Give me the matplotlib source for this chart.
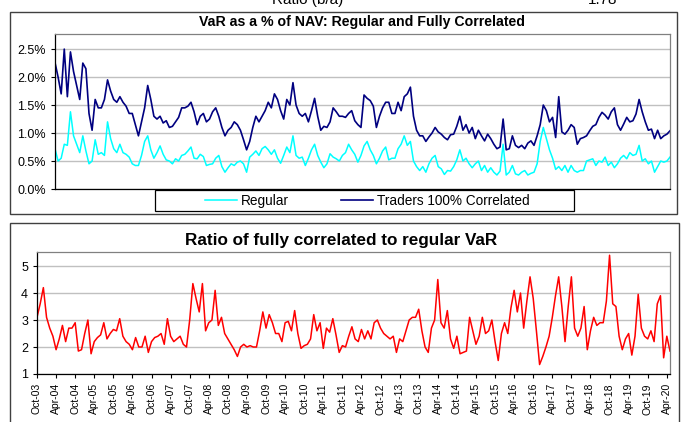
import numpy as np
import matplotlib
matplotlib.use('Agg')
import matplotlib.pyplot as plt
import matplotlib.ticker as mtick
from matplotlib.patches import Rectangle
from matplotlib.lines import Line2D

plt.rcParams['font.family'] = ['Liberation Sans', 'DejaVu Sans']

# monthly values, Oct-03 .. May-20 (VaR as % of NAV)
regular = [
    0.72, 0.5, 0.55, 0.8, 0.78, 1.38, 0.95, 0.8, 0.65, 0.95,
    0.68, 0.45, 0.5, 0.88, 0.62, 0.65, 0.6, 1.2, 0.9, 0.72,
    0.65, 0.8, 0.65, 0.62, 0.57, 0.45, 0.42, 0.42, 0.6, 0.85,
    0.95, 0.7, 0.55, 0.65, 0.77, 0.62, 0.52, 0.5, 0.45, 0.54,
    0.5, 0.6, 0.62, 0.68, 0.75, 0.55, 0.54, 0.62, 0.58, 0.42,
    0.44, 0.45, 0.55, 0.6, 0.4, 0.3, 0.38, 0.45, 0.42, 0.48,
    0.5, 0.45, 0.3, 0.57, 0.62, 0.68, 0.6, 0.72, 0.76, 0.7,
    0.62, 0.7, 0.55, 0.46, 0.6, 0.75, 0.65, 0.95, 0.6, 0.55,
    0.57, 0.42, 0.55, 0.7, 0.8, 0.6, 0.48, 0.38, 0.45, 0.63,
    0.57, 0.54, 0.5, 0.6, 0.65, 0.8, 0.7, 0.62, 0.48, 0.6,
    0.77, 0.85, 0.7, 0.6, 0.45, 0.55, 0.68, 0.75, 0.52, 0.55,
    0.55, 0.72, 0.8, 0.95, 0.78, 0.85, 0.5, 0.4, 0.33, 0.4,
    0.3, 0.45, 0.55, 0.6, 0.4, 0.36, 0.26, 0.33, 0.32, 0.4,
    0.52, 0.7, 0.5, 0.55, 0.45, 0.38, 0.45, 0.5, 0.33, 0.42,
    0.3, 0.38, 0.3, 0.25, 0.32, 0.8, 0.25, 0.3, 0.42, 0.27,
    0.25, 0.3, 0.33, 0.25, 0.28, 0.3, 0.45, 0.85, 1.1, 0.9,
    0.7, 0.55, 0.35, 0.4, 0.33, 0.42, 0.3, 0.42, 0.33, 0.3,
    0.33, 0.33, 0.5, 0.52, 0.54, 0.42, 0.5, 0.48, 0.57, 0.42,
    0.48, 0.38, 0.45, 0.55, 0.6, 0.54, 0.65, 0.6, 0.62, 0.78,
    0.5, 0.54, 0.45, 0.5, 0.3, 0.4, 0.5, 0.48, 0.5, 0.57,
]

correlated = [
    2.26, 2.0, 1.7, 2.5, 1.65, 2.45, 2.1, 1.85, 1.6, 2.25,
    2.15, 1.35, 1.05, 1.6, 1.45, 1.45, 1.6, 1.95, 1.75, 1.6,
    1.55, 1.65, 1.55, 1.48, 1.35, 1.35, 1.15, 0.95, 1.2, 1.45,
    1.85, 1.6, 1.3, 1.25, 1.3, 1.18, 1.22, 1.1, 1.12, 1.2,
    1.28, 1.45, 1.45, 1.48, 1.55, 1.38, 1.15, 1.3, 1.35, 1.2,
    1.25, 1.38, 1.45, 1.3, 1.1, 0.95, 1.05, 1.1, 1.2, 1.15,
    1.05, 0.88, 0.7, 0.85, 1.1, 1.3, 1.2, 1.3, 1.4, 1.55,
    1.45, 1.7, 1.6, 1.4, 1.25, 1.6, 1.5, 1.9, 1.5, 1.35,
    1.3, 1.35, 1.2, 1.4, 1.62, 1.3, 1.05, 1.12, 1.1, 1.2,
    1.45, 1.38, 1.3, 1.3, 1.28, 1.35, 1.4, 1.22, 1.15, 1.1,
    1.68, 1.62, 1.58, 1.48, 1.1, 1.3, 1.45, 1.55, 1.55, 1.35,
    1.35, 1.55, 1.4, 1.65, 1.7, 1.82, 1.3, 1.05, 0.95, 0.95,
    0.85, 0.93, 1.0, 1.1, 1.02, 0.98, 0.92, 0.88, 0.97, 0.98,
    1.12, 1.3, 1.05, 1.15, 1.0, 1.1, 0.9, 1.05, 0.95, 0.86,
    0.98, 0.9, 0.8, 0.72, 0.75, 1.25, 0.7, 0.72, 0.95, 0.78,
    0.74, 0.78, 0.72, 0.82, 0.86, 0.78, 0.95, 1.15, 1.5, 1.4,
    1.2, 1.28, 0.92, 1.65, 1.02, 0.98, 1.05, 1.15, 1.1, 0.8,
    0.9, 0.92, 0.95, 1.04, 1.12, 1.15, 1.28, 1.37, 1.32, 1.25,
    1.38, 1.45, 1.15, 1.05, 1.16, 1.28, 1.2, 1.22, 1.34, 1.6,
    1.38, 1.2, 1.05, 1.07, 0.9, 1.05, 0.9, 0.95, 0.98, 1.04,
]

ratio = [
    3.1, 3.6, 4.2, 3.1, 2.7, 2.4, 1.9, 2.3, 2.8, 2.2,
    2.7, 2.7, 2.9, 1.85, 1.9, 2.5, 3.0, 1.75, 2.2, 2.35,
    2.45, 2.9, 2.3, 2.5, 2.65, 2.6, 3.05, 2.4, 2.2, 2.1,
    1.9, 2.35, 2.0, 2.0, 2.4, 1.8, 2.2, 2.35, 2.4, 2.5,
    2.1, 3.05, 2.4, 2.2, 2.3, 2.4, 2.1, 2.0, 3.0, 4.35,
    3.8, 3.3, 4.35, 2.6, 2.9, 3.0, 4.1, 2.8, 3.1, 2.5,
    2.3, 2.1, 1.9, 1.65, 2.0, 2.1, 2.0, 2.05, 2.0, 2.0,
    2.6, 3.3, 2.7, 3.2, 2.9, 2.5, 2.5, 2.2, 2.9, 2.95,
    2.6, 3.35, 2.5, 1.95, 2.05, 2.1, 2.3, 3.2, 2.6, 2.9,
    1.95, 2.7, 2.55, 3.05, 2.45, 1.8, 2.05, 2.0, 2.4, 2.75,
    2.3, 2.2, 2.65, 2.3, 2.6, 2.3, 2.9, 3.0, 2.7, 2.5,
    2.4, 2.3, 2.4, 1.8, 2.3, 2.2, 2.6, 3.0, 3.1, 3.1,
    3.4, 2.6, 2.0, 1.8, 2.7, 3.0, 4.5, 2.9, 2.7, 3.35,
    2.3, 1.95, 2.4, 1.75, 1.8, 1.85, 3.1, 2.6, 2.1, 2.4,
    3.1, 2.5, 2.6, 3.0, 2.2, 1.5, 2.5, 2.9, 2.5, 3.45,
    4.1, 3.3, 4.0, 2.7, 3.7, 4.6, 3.8, 2.6, 1.35, 1.65,
    2.0, 2.4, 3.1, 3.9, 4.6, 3.5, 2.2, 3.5, 4.6, 2.7,
    2.4, 2.7, 3.5, 1.9, 2.6, 3.1, 2.8, 2.9, 2.9, 3.7,
    5.4, 3.6, 3.5, 2.4, 1.9, 2.3, 2.5, 1.7, 2.4, 3.95,
    2.7, 2.4, 2.3, 2.6, 2.2, 3.6, 3.9, 1.6, 2.4, 1.85,
]

date_labels = [
    'Oct-03', 'Apr-04', 'Oct-04', 'Apr-05', 'Oct-05', 'Apr-06', 'Oct-06',
    'Apr-07', 'Oct-07', 'Apr-08', 'Oct-08', 'Apr-09', 'Oct-09', 'Apr-10',
    'Oct-10', 'Apr-11', 'Oct-11', 'Apr-12', 'Oct-12', 'Apr-13', 'Oct-13',
    'Apr-14', 'Oct-14', 'Apr-15', 'Oct-15', 'Apr-16', 'Oct-16', 'Apr-17',
    'Oct-17', 'Apr-18', 'Oct-18', 'Apr-19', 'Oct-19', 'Apr-20',
]

W, H = 681, 422


def fx(px):
    return px / W


def fy(py):
    return 1 - py / H


fig = plt.figure(figsize=(W / 100, H / 100), dpi=100)
months = np.arange(len(regular))
tick_pos = np.arange(len(date_labels)) * 6


def style_axes(ax):
    ax.set_axisbelow(True)
    ax.grid(axis='y', color='#c0c0c0', lw=1.0)
    for s in ['top', 'right']:
        ax.spines[s].set_color('#808080')
        ax.spines[s].set_linewidth(0.9)
    for s in ['left', 'bottom']:
        ax.spines[s].set_color('black')
        ax.spines[s].set_linewidth(0.9)
    ax.tick_params(axis='both', labelsize=9, length=3, width=0.8)


# top chart
ax1 = fig.add_axes([fx(55), fy(189), fx(670) - fx(55), fy(34) - fy(189)])
ax1.plot(months, regular, color='#00FFFF', lw=1.1)
ax1.plot(months, correlated, color='#000080', lw=1.2)
ax1.set_xlim(0, len(regular) - 1)
ax1.set_ylim(0, 2.77)
ax1.set_yticks([0, 0.5, 1.0, 1.5, 2.0, 2.5])
ax1.yaxis.set_major_formatter(mtick.PercentFormatter(xmax=100, decimals=1))
ax1.set_xticks([])
style_axes(ax1)

# bottom chart
ax2 = fig.add_axes([fx(37), fy(374), fx(670) - fx(37), fy(252) - fy(374)])
ax2.plot(months, ratio, color='#FF0000', lw=1.1)
ax2.set_xlim(0, len(ratio) - 1)
ax2.set_ylim(1, 5.52)
ax2.set_yticks([1, 2, 3, 4, 5])
ax2.set_xticks(tick_pos)
ax2.set_xticklabels(date_labels, rotation=90)
style_axes(ax2)
ax2.tick_params(axis='x', labelsize=7.5)

# frames round each chart
fig.add_artist(Rectangle((fx(10), fy(214)), fx(677) - fx(10), fy(12) - fy(214),
                         transform=fig.transFigure, fill=False, ec='#404040', lw=1.0))
fig.add_artist(Rectangle((fx(10), fy(440)), fx(679) - fx(10), fy(223) - fy(440),
                         transform=fig.transFigure, fill=False, ec='#404040', lw=1.0))

# legend with its own box
fig.add_artist(Rectangle((fx(155), fy(211)), fx(574) - fx(155), fy(190) - fy(211),
                         transform=fig.transFigure, fill=False, ec='black', lw=0.9))
handles = [Line2D([], [], color='#00FFFF', lw=1.1), Line2D([], [], color='#000080', lw=1.2)]
fig.legend(handles, ['Regular', 'Traders 100% Correlated'], loc='center',
           bbox_to_anchor=(fx(367), fy(201)), ncol=2, frameon=False, fontsize=9.8,
           handlelength=2.4, handletextpad=0.25, columnspacing=3.8)

fig.text(fx(362), fy(22), 'VaR as a % of NAV: Regular and Fully Correlated',
         ha='center', va='center', fontsize=10.2, fontweight='bold')
fig.text(fx(341), fy(240), 'Ratio of fully correlated to regular VaR',
         ha='center', va='center', fontsize=12.3, fontweight='bold')

# text above the charts, partly outside the picture in the reference
fig.text(fx(308), fy(0), 'Ratio (b/a)', ha='center', va='center', fontsize=11)
fig.text(fx(603), fy(0), '1.78', ha='center', va='center', fontsize=11)

fig.savefig('out.png', dpi=100)
